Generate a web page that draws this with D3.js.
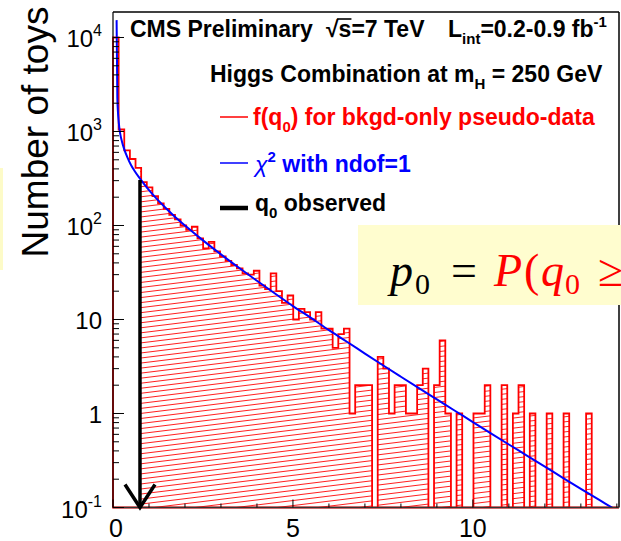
<!DOCTYPE html>
<html><head><meta charset="utf-8">
<script src="https://cdn.jsdelivr.net/npm/d3@7"></script>
<style>
body{margin:0;background:#fff;}
svg{display:block;font-family:"Liberation Sans",Arial,Helvetica,sans-serif;}
</style>
</head><body>
<svg id="c" width="621" height="541"></svg>
<script>
// ---------------- data ----------------
const binWidth = 0.1565;
const binCounts = [
  10000, 1050, 630, 510, 410, 290, 255, 205, 172, 150,
  130, 116, 100, 90, 97, 73, 57, 67, 53, 47,
  42, 38, 35, 31, 30, 33, 23, 21, 31, 20,
  15, 18, 10, 13, 12, 10, 12, 8, 8, 5,
  7, 8, 1, 2, 2, 2, 0, 4, 3, 1,
  2, 2, 1, 1, 2, 3, 0, 2, 6, 1,
  0, 1, 0, 0, 1, 1, 2, 0, 0, 2,
  0, 1, 2, 0, 1, 0, 0, 1, 0, 0,
  1, 0, 0, 0, 1, 0, 0, 0, 0, 0
];
const chi2Q = [0.10, 0.12, 0.16, 0.20, 0.25, 0.30, 0.40, 0.50, 0.60, 0.75,
  1.0, 1.25, 1.5, 1.75, 2.0, 2.5, 3.0, 3.5, 4.0, 4.5,
  5.0, 5.5, 6.0, 6.5, 7.0, 7.5, 8.0, 8.5, 9.0, 9.5,
  10, 10.5, 11, 11.5, 12, 12.5, 13, 13.5, 14, 14.1];
const chi2Val = [15300, 2300, 1250, 950, 780, 670, 530, 440, 380, 315,
  238, 186, 149, 121, 100, 69.5, 49.3, 35.5, 25.8, 18.9,
  13.9, 10.4, 7.7, 5.8, 4.34, 3.26, 2.46, 1.86, 1.41, 1.07,
  0.81, 0.615, 0.468, 0.357, 0.272, 0.207, 0.158, 0.121, 0.093, 0.088];
const qObserved = 0.75;
const arrowTopValue = 305;
const xTickValues = [0, 5, 10];
const xTickLabels = ["0", "5", "10"];
const yTickValues = [0.1, 1, 10, 100, 1000, 10000];
const yTickBase = ["10", "1", "10", "10", "10", "10"];
const yTickExp = ["-1", "", "", "2", "3", "4"];
const xDomain = [0, 14.06];
const yDomain = [0.1, 18670];

// ---------------- setup ----------------
const svg = d3.select("#c");
const L = 113, R = 619, T = 12, B = 507.5;
const x = d3.scaleLinear().domain(xDomain).range([L, R]);
const y = d3.scaleLog().domain(yDomain).range([B, T]);

const defs = svg.append("defs");
defs.append("clipPath").attr("id", "plotclip")
  .append("rect").attr("x", L - 2).attr("y", T).attr("width", R - L + 2).attr("height", B - T + 2);
defs.append("clipPath").attr("id", "hatchclip")
  .append("rect").attr("x", x(qObserved)).attr("y", T).attr("width", R - x(qObserved)).attr("height", B - T);
defs.append("clipPath").attr("id", "curveclip")
  .append("rect").attr("x", L).attr("y", T).attr("width", R - L).attr("height", B - T);
const pat = defs.append("pattern").attr("id", "hatch")
  .attr("patternUnits", "userSpaceOnUse").attr("width", 80).attr("height", 5)
  .attr("patternTransform", "rotate(-7)");
pat.append("line").attr("x1", 0).attr("y1", 2.5).attr("x2", 80).attr("y2", 2.5)
  .attr("stroke", "#ff2020").attr("stroke-width", 1);

// left yellow strip (slide background)
svg.append("rect").attr("x", 0).attr("y", 168).attr("width", 3).attr("height", 102).attr("fill", "#fdfbc8");

// ---------------- histogram ----------------
const bins = binCounts.map((c, i) => ({x0: i * binWidth, x1: (i + 1) * binWidth, v: Math.max(c, yDomain[0])}));
const pts = [[x(0), y(yDomain[0])]];
bins.forEach(b => { pts.push([x(b.x0), y(b.v)]); pts.push([x(b.x1), y(b.v)]); });
pts.push([x(bins[bins.length - 1].x1), y(yDomain[0])]);
const histPath = d3.line()(pts) + "Z";

const g = svg.append("g").attr("clip-path", "url(#plotclip)");
g.append("path").attr("d", histPath).attr("fill", "url(#hatch)").attr("stroke", "none")
  .attr("clip-path", "url(#hatchclip)");
g.append("path").attr("d", histPath).attr("fill", "none").attr("stroke", "#ff0000")
  .attr("stroke-width", 1.8).attr("stroke-linejoin", "miter");

// ---------------- chi2 curve ----------------
const curvePts = chi2Q.map((q, i) => [x(q), y(chi2Val[i])]);
svg.append("g").attr("clip-path", "url(#curveclip)").append("path")
  .attr("d", d3.line().curve(d3.curveMonotoneX)(curvePts))
  .attr("fill", "none").attr("stroke", "#0000ff").attr("stroke-width", 2);

// ---------------- axes / frame ----------------
const ax = svg.append("g");
ax.append("line").attr("x1", L).attr("x2", R).attr("y1", T).attr("y2", T).attr("stroke", "#000").attr("stroke-width", 1.5);
ax.append("line").attr("x1", R).attr("x2", R).attr("y1", T).attr("y2", B).attr("stroke", "#000").attr("stroke-width", 1.5);
ax.append("line").attr("x1", L).attr("x2", L).attr("y1", T).attr("y2", B).attr("stroke", "#000").attr("stroke-width", 1.2);
ax.append("line").attr("x1", L).attr("x2", R).attr("y1", B).attr("y2", B).attr("stroke", "#333").attr("stroke-width", 1.5);

// y ticks (major + minor, inward)
const yMinor = [];
for (let e = -1; e <= 4; e++) for (let m = 1; m <= 9; m++) {
  const v = m * Math.pow(10, e);
  if (v >= yDomain[0] && v <= yDomain[1]) yMinor.push({v, major: m === 1});
}
ax.selectAll(".yt").data(yMinor).join("line")
  .attr("x1", L).attr("x2", d => L + (d.major ? 11 : 6))
  .attr("y1", d => y(d.v)).attr("y2", d => y(d.v))
  .attr("stroke", "#000").attr("stroke-width", 1);
// x ticks
const xt = d3.range(0, 15).filter(v => v <= xDomain[1]);
ax.selectAll(".xt").data(xt).join("line")
  .attr("x1", d => x(d)).attr("x2", d => x(d))
  .attr("y1", B).attr("y2", d => B - (d % 5 === 0 ? 8 : 4))
  .attr("stroke", "#000").attr("stroke-width", 1);

// y tick labels
yTickValues.forEach((v, i) => {
  const t = svg.append("text").attr("x", 102).attr("y", y(v) + 10)
    .attr("text-anchor", "end").attr("font-size", 24).attr("fill", "#000");
  t.append("tspan").text(yTickBase[i]);
  if (yTickExp[i]) t.append("tspan").attr("dy", -11).attr("font-size", 16).text(yTickExp[i]);
});
// x tick labels
xTickValues.forEach((v, i) => {
  svg.append("text").attr("x", x(v) + (v === 0 ? 3 : 0)).attr("y", 537)
    .attr("text-anchor", "middle").attr("font-size", 25).attr("fill", "#000").text(xTickLabels[i]);
});
// y axis title
svg.append("text").attr("transform", "translate(48,132) rotate(-90)")
  .attr("text-anchor", "middle").attr("font-size", 37).attr("fill", "#000").text("Number of toys");

// ---------------- observed arrow ----------------
const ax0 = x(qObserved);
svg.append("line").attr("x1", ax0).attr("x2", ax0).attr("y1", y(arrowTopValue)).attr("y2", B)
  .attr("stroke", "#000").attr("stroke-width", 3.5);
svg.append("path").attr("d", `M${ax0 - 15},${B - 23} L${ax0},${B} L${ax0 + 15},${B - 23}`)
  .attr("fill", "none").attr("stroke", "#000").attr("stroke-width", 3.5);

// ---------------- legend / header ----------------
const fs = 23;
svg.append("text").attr("x", 130).attr("y", 37).attr("font-size", fs).attr("font-weight", "bold").text("CMS Preliminary");
const sq = svg.append("text").attr("x", 326).attr("y", 37).attr("font-size", fs).attr("font-weight", "bold").text("\u221As=7 TeV");
try {
  const n = sq.node();
  const w0 = n.getSubStringLength(0, 1), w1 = n.getSubStringLength(1, 1);
  svg.append("line").attr("x1", 326 + w0 - 1.5).attr("x2", 326 + w0 + w1).attr("y1", 37 - 18).attr("y2", 37 - 18)
    .attr("stroke", "#000").attr("stroke-width", 1.6);
} catch (e) {}
const lt = svg.append("text").attr("x", 448).attr("y", 37).attr("font-size", fs).attr("font-weight", "bold");
lt.append("tspan").text("L");
lt.append("tspan").attr("dy", 7).attr("font-size", 15).text("int");
lt.append("tspan").attr("dy", -7).text("=0.2-0.9 fb");
lt.append("tspan").attr("dy", -10).attr("font-size", 15).text("-1");

const ht = svg.append("text").attr("x", 210).attr("y", 82).attr("font-size", fs).attr("font-weight", "bold");
ht.append("tspan").text("Higgs Combination at m");
ht.append("tspan").attr("dy", 7).attr("font-size", 15).text("H");
ht.append("tspan").attr("dy", -7).text(" = 250 GeV");

svg.append("line").attr("x1", 220).attr("x2", 248).attr("y1", 117).attr("y2", 117).attr("stroke", "#ff0000").attr("stroke-width", 1.5);
const t1 = svg.append("text").attr("x", 253).attr("y", 125).attr("font-size", fs).attr("font-weight", "bold").attr("fill", "#ff0000");
t1.append("tspan").text("f(q");
t1.append("tspan").attr("dy", 7).attr("font-size", 15).text("0");
t1.append("tspan").attr("dy", -7).text(") for bkgd-only pseudo-data");

svg.append("line").attr("x1", 220).attr("x2", 248).attr("y1", 163).attr("y2", 163).attr("stroke", "#0000ff").attr("stroke-width", 1.5);
const t2 = svg.append("text").attr("x", 255).attr("y", 172).attr("font-size", fs).attr("font-weight", "bold").attr("fill", "#0000ff");
t2.append("tspan").attr("font-style", "italic").attr("font-weight", "normal").text("\u03C7");
t2.append("tspan").attr("dy", -10).attr("font-size", 15).text("2");
t2.append("tspan").attr("dy", 10).text(" with ndof=1");

svg.append("line").attr("x1", 220).attr("x2", 248).attr("y1", 208).attr("y2", 208).attr("stroke", "#000").attr("stroke-width", 4.5);
const t3 = svg.append("text").attr("x", 255).attr("y", 211).attr("font-size", fs).attr("font-weight", "bold").attr("fill", "#000");
t3.append("tspan").text("q");
t3.append("tspan").attr("dy", 7).attr("font-size", 15).text("0");
t3.append("tspan").attr("dy", -7).text(" observed");

// ---------------- overlaid formula box ----------------
svg.append("rect").attr("x", 358).attr("y", 225).attr("width", 270).attr("height", 80).attr("fill", "#fffdcf");
const ff = '"Liberation Serif","DejaVu Serif",serif';
const pieces = [
  {t: "p", x: 390, dy: 0, s: 46, it: true, c: "#000"},
  {t: "0", x: 415, dy: 8, s: 30, it: false, c: "#000"},
  {t: "=", x: 451, dy: 0, s: 46, it: false, c: "#000"},
  {t: "P", x: 494, dy: 0, s: 46, it: true, c: "#ff0000"},
  {t: "(", x: 524, dy: 0, s: 46, it: false, c: "#ff0000"},
  {t: "q", x: 541, dy: 0, s: 46, it: true, c: "#ff0000"},
  {t: "0", x: 565, dy: 8, s: 30, it: false, c: "#ff0000"},
  {t: "\u2265", x: 598, dy: 0, s: 46, it: false, c: "#ff0000"}
];
pieces.forEach(p => {
  svg.append("text").attr("x", p.x).attr("y", 286 + p.dy).attr("font-family", ff)
    .attr("font-size", p.s).attr("font-style", p.it ? "italic" : "normal").attr("fill", p.c).text(p.t);
});
</script>
</body></html>
